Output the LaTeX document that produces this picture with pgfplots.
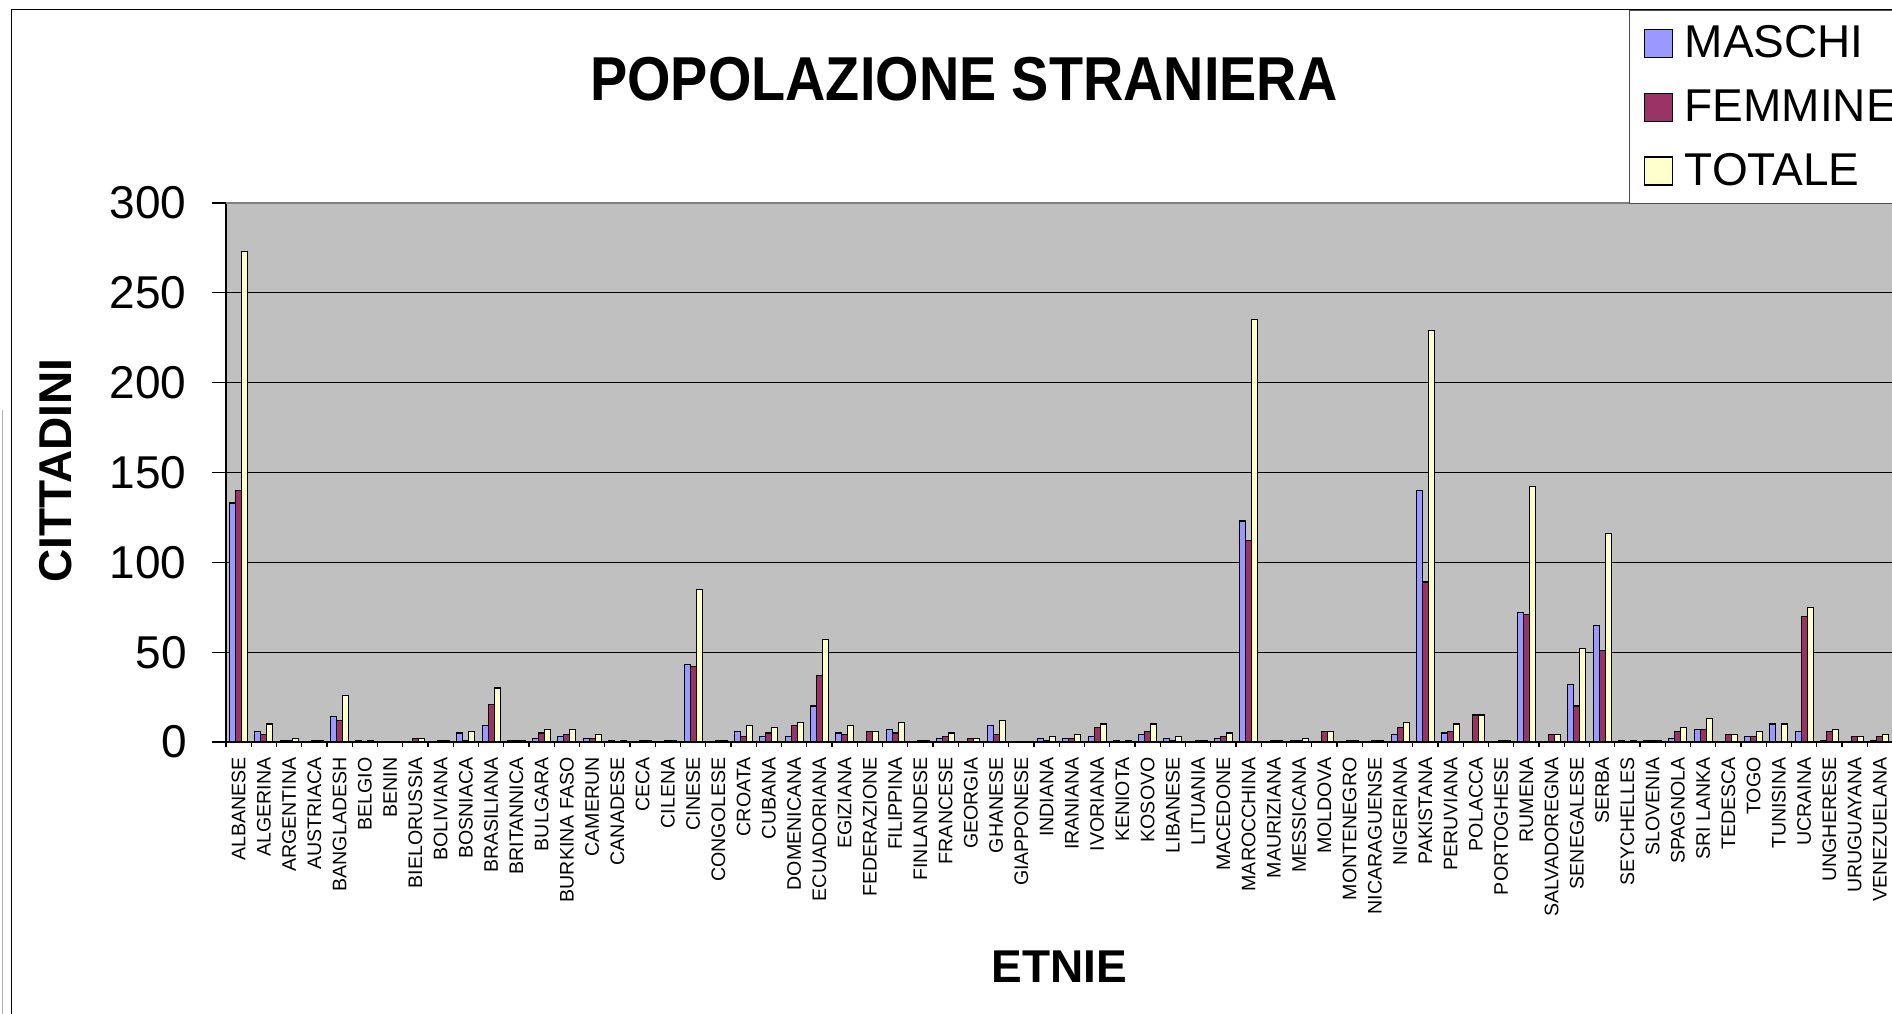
\documentclass[border=0pt]{standalone}
\usepackage{pgfplots}
\pgfplotsset{compat=1.18}
\usepackage{pgfplotstable}
\usepackage{fontspec}
\setmainfont{Liberation Sans}
\newfontfamily\titlefont[FakeStretch=0.90]{Liberation Sans}
\definecolor{mcol}{HTML}{9999FF}
\definecolor{fcol}{HTML}{993366}
\definecolor{tcol}{HTML}{FFFFCC}
\definecolor{bgcol}{HTML}{C0C0C0}

\pgfplotstableread{
idx M F T
0 133 140 273
1 6 4 10
2 1 1 2
3 0 1 1
4 14 12 26
5 1 0 1
6 0 0 0
7 0 2 2
8 0 1 1
9 5 1 6
10 9 21 30
11 1 1 1
12 2 5 7
13 3 4 7
14 2 2 4
15 1 0 1
16 0 1 1
17 0 1 1
18 43 42 85
19 0 1 1
20 6 3 9
21 3 5 8
22 3 9 11
23 20 37 57
24 5 4 9
25 0 6 6
26 7 5 11
27 0 1 1
28 2 3 5
29 0 2 2
30 9 4 12
31 0 0 0
32 2 1 3
33 2 2 4
34 3 8 10
35 1 0 1
36 4 6 10
37 2 1 3
38 0 1 1
39 2 3 5
40 123 112 235
41 0 1 1
42 1 1 2
43 0 6 6
44 0 1 1
45 0 1 1
46 4 8 11
47 140 89 229
48 5 6 10
49 0 15 15
50 0 1 1
51 72 71 142
52 0 4 4
53 32 20 52
54 65 51 116
55 1 0 1
56 1 1 1
57 2 6 8
58 7 7 13
59 0 4 4
60 3 3 6
61 10 0 10
62 6 70 75
63 1 6 7
64 0 3 3
65 1 3 4
}\data

\begin{document}
\begin{tikzpicture}[x=1pt,y=1pt]
\draw[black, line width=0.5pt] (5.5,-20) -- (5.5,501.5) -- (990,501.5);
\draw[gray!60, line width=0.5pt] (1.25,-5) -- (1.25,301.5);
\begin{axis}[
 at={(113pt,135.5pt)}, anchor=south west,
 scale only axis, width=833.25pt, height=269.5pt,
 xmin=-0.5, xmax=65.5, ymin=0, ymax=300,
 ybar=0pt, bar width=3pt,
 axis lines=left, axis line style={-, line width=0.6pt, black},
 axis background/.style={fill=bgcol},
 ytick={0,50,...,300},
 ymajorgrids, grid style={black, line width=0.5pt},
 tick align=outside,
 major tick length=7pt, minor tick length=2.5pt,
 tick style={black, line width=0.6pt},
 xtick={0,...,65},
 minor xtick={-0.5,0.5,...,65.5},
 major x tick style={draw=none},
 xticklabels={ALBANESE,ALGERINA,ARGENTINA,AUSTRIACA,BANGLADESH,BELGIO,BENIN,BIELORUSSIA,BOLIVIANA,BOSNIACA,BRASILIANA,BRITANNICA,BULGARA,{BURKINA FASO},CAMERUN,CANADESE,CECA,CILENA,CINESE,CONGOLESE,CROATA,CUBANA,DOMENICANA,ECUADORIANA,EGIZIANA,FEDERAZIONE,FILIPPINA,FINLANDESE,FRANCESE,GEORGIA,GHANESE,GIAPPONESE,INDIANA,IRANIANA,IVORIANA,KENIOTA,KOSOVO,LIBANESE,LITUANIA,MACEDONE,MAROCCHINA,MAURIZIANA,MESSICANA,MOLDOVA,MONTENEGRO,NICARAGUENSE,NIGERIANA,PAKISTANA,PERUVIANA,POLACCA,PORTOGHESE,RUMENA,SALVADOREGNA,SENEGALESE,SERBA,SEYCHELLES,SLOVENIA,SPAGNOLA,{SRI LANKA},TEDESCA,TOGO,TUNISINA,UCRAINA,UNGHERESE,URUGUAYANA,VENEZUELANA},
 xticklabel style={rotate=90, anchor=east, inner sep=0pt, font=\fontsize{9.8}{11}\selectfont},
 xticklabel shift=0.5pt,
 yticklabel style={anchor=east, inner sep=0pt, font=\fontsize{23}{27}\selectfont},
 yticklabel shift=12.5pt,
 /pgf/number format/assume math mode=true,
 title={\titlefont\bfseries POPOLAZIONE STRANIERA},
 title style={at={(axis description cs:0.4428,1.1685)}, anchor=base, inner sep=0pt, font=\fontsize{31}{36}\selectfont},
 xlabel={\bfseries ETNIE},
 every axis x label/.style={at={(axis description cs:0.4999,-0.446)}, anchor=base, inner sep=0pt, font=\fontsize{23}{27}\selectfont},
 ylabel={\bfseries CITTADINI},
 every axis y label/.style={at={(axis description cs:-0.0930,0.5035)}, rotate=90, anchor=base, inner sep=0pt, font=\fontsize{23}{27}\selectfont},
 legend style={at={(axis description cs:0.8419,1.358)}, anchor=north west,
   draw=black!70, line width=0.5pt, fill=white,
   font=\fontsize{23}{27}\selectfont,
   inner xsep=7pt, inner ysep=5.6pt, row sep=10.5pt, column sep=4pt},
 legend cell align=left,
 legend image code/.code={\draw[#1, line width=0.6pt] (0pt,-7pt) rectangle (14pt,7pt);},
]
\addplot[fill=mcol, draw=black, line width=0.6pt] table[x=idx,y=M]{\data};
\addplot[fill=fcol, draw=black, line width=0.6pt] table[x=idx,y=F]{\data};
\addplot[fill=tcol, draw=black, line width=0.6pt] table[x=idx,y=T]{\data};
\legend{MASCHI,FEMMINE,TOTALE}
\draw[gray, line width=0.6pt] (rel axis cs:0,1) -- (rel axis cs:1.05,1);
\end{axis}
\pgfresetboundingbox
\useasboundingbox (0,0) rectangle (946,506.5);
\end{tikzpicture}
\end{document}
